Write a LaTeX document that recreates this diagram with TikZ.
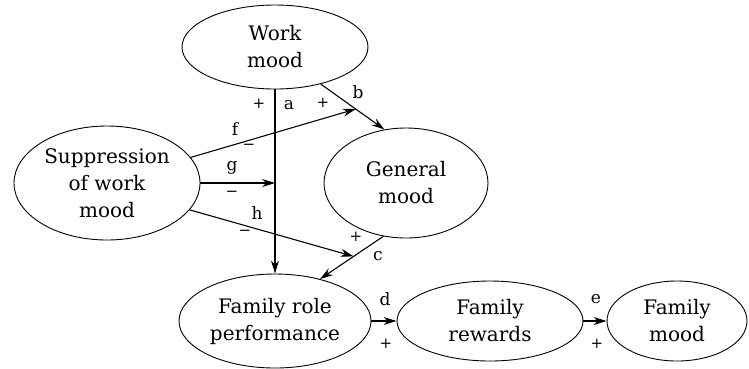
\documentclass[tikz,border=0pt]{standalone}
\usepackage{fontspec}
\setmainfont{DejaVu Serif}
\usetikzlibrary{shapes.geometric,arrows.meta,calc}
\begin{document}
\begin{tikzpicture}[x=1pt,y=-1pt,
  box/.style={draw,ellipse,inner sep=0pt,line width=0.9pt,align=center,
    font=\fontsize{20}{27}\selectfont},
  arr/.style={line width=1.1pt,-{Stealth[length=13pt,width=8pt]}},
  lab/.style={font=\fontsize{17}{19}\selectfont,inner sep=0pt},
  sgn/.style={font=\fontsize{15}{17}\selectfont,inner sep=0pt}]
\useasboundingbox (0,0) rectangle (749,368);
\node[box,minimum width=186pt,minimum height=84pt] (wm) at (275,47) {Work\\mood};
\node[box,minimum width=186pt,minimum height=114pt] (sup) at (107,183) {Suppression\\of work\\mood};
\node[box,minimum width=164pt,minimum height=110pt] (gm) at (406,183) {General\\mood};
\node[box,minimum width=192pt,minimum height=94pt] (fr) at (275,321) {Family role\\performance};
\node[box,minimum width=186pt,minimum height=80pt] (rw) at (490,321) {Family\\rewards};
\node[box,minimum width=140pt,minimum height=80pt] (fm) at (677,321) {Family\\mood};
% a
\draw[arr] (wm.south) -- (fr.north);
% b
\draw[arr] (wm.-39) -- (gm.112);
\coordinate (bm) at ($(wm.-39)!0.55!(gm.112)$);
% c
\draw[arr] (gm.247) -- (fr.43);
\coordinate (cm) at ($(gm.247)!0.47!(fr.43)$);
% f g h
\draw[arr] (sup.17) -- (bm);
\coordinate (am) at (wm.south |- sup.east);
\draw[arr] (sup.east) -- (am);
\draw[arr] (sup.-18) -- (cm);
% d e
\draw[arr] (fr.east) -- (rw.west);
\draw[arr] (rw.east) -- (fm.west);
% labels
\node[lab] (la) at (289,105) {a};
\node[sgn] (pa) at (259,104) {+};
\node[sgn] (pf) at (323,103) {+};
\node[lab] (lb) at (358,92) {b};
\node[lab] (lf) at (235,129) {f};
\node[sgn] (mf) at (249,147) {−};
\node[lab] (lg) at (232,168) {g};
\node[sgn] (mg) at (232,194) {−};
\node[lab] (lh) at (257,213) {h};
\node[sgn] (mh) at (245,233) {−};
\node[sgn] (pc) at (356,237) {+};
\node[lab] (lc) at (378,256) {c};
\node[lab] (ld) at (385,299) {d};
\node[sgn] (pd) at (386,344) {+};
\node[lab] (le) at (596,299) {e};
\node[sgn] (pe) at (597,344) {+};
\end{tikzpicture}
\end{document}
